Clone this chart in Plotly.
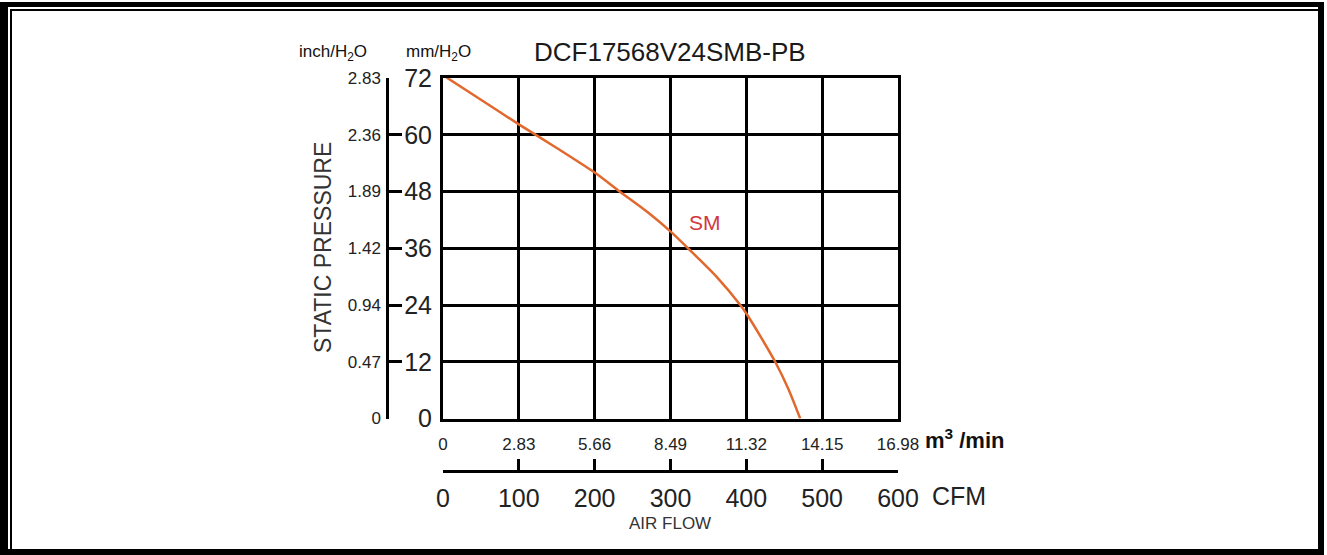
import plotly.graph_objects as go

# ---- data ----
cfm_ticks = [0, 100, 200, 300, 400, 500, 600]
cmm_labels = ["0", "2.83", "5.66", "8.49", "11.32", "14.15", "16.98"]
cfm_labels = ["0", "100", "200", "300", "400", "500", "600"]
mm_ticks = [0, 12, 24, 36, 48, 60, 72]
mm_labels = ["0", "12", "24", "36", "48", "60", "72"]
inch_labels = ["0", "0.47", "0.94", "1.42", "1.89", "2.36", "2.83"]

sm_flow = [0, 50, 100, 150, 200, 233, 270, 301, 323, 360, 392, 400, 420, 438, 455, 471]
sm_pressure = [72.6, 67.4, 62.2, 57.2, 52.0, 48.0, 43.6, 39.4, 36.0, 30.1, 24.0, 22.2, 17.0, 12.0, 6.4, 0.0]

W, H = 1327, 555
SANS = "Liberation Sans, Arial, sans-serif"


def px(x):
    return x / W


def py(y):
    return 1 - y / H


fig = go.Figure()
fig.add_trace(go.Scatter(x=sm_flow, y=sm_pressure, mode="lines",
                         line=dict(color="#E2692D", width=2.5, shape="spline", smoothing=0.8),
                         hoverinfo="skip", showlegend=False))
# invisible helpers so the secondary axes are drawn
fig.add_trace(go.Scatter(x=[0], y=[0], xaxis="x2", yaxis="y", mode="markers",
                         marker=dict(opacity=0), showlegend=False, hoverinfo="skip"))
fig.add_trace(go.Scatter(x=[0], y=[0], xaxis="x", yaxis="y2", mode="markers",
                         marker=dict(opacity=0), showlegend=False, hoverinfo="skip"))

x0, x1 = px(443), px(898)
y0, y1 = py(418.5), py(78)

fig.update_layout(
    template="none",
    width=W, height=H, margin=dict(l=0, r=0, t=0, b=0, pad=0), autosize=False,
    paper_bgcolor="white", plot_bgcolor="white", showlegend=False,
    xaxis=dict(domain=[x0, x1], range=[0, 600], tickvals=cfm_ticks, ticktext=cmm_labels,
               automargin=False,
               showgrid=True, gridcolor="black", gridwidth=2.5, zeroline=False,
               showline=True, linecolor="black", linewidth=3, mirror=True,
               ticks="", ticklabelstandoff=8,
               tickfont=dict(family=SANS, size=17, color="#222")),
    xaxis2=dict(domain=[x0, x1], range=[0, 600], overlaying="x", anchor="free",
                automargin=False,
                position=py(471), side="bottom", tickvals=cfm_ticks, ticktext=cfm_labels,
                showgrid=False, zeroline=False, showline=True, linecolor="black", linewidth=2.5,
                ticks="inside", ticklen=11, tickwidth=2.5, tickcolor="black",
                ticklabelstandoff=4,
                tickfont=dict(family=SANS, size=25, color="#222")),
    yaxis=dict(domain=[y0, y1], range=[0, 72], tickvals=mm_ticks, ticktext=mm_labels,
               automargin=False,
               showgrid=True, gridcolor="black", gridwidth=2.5, zeroline=False,
               showline=True, linecolor="black", linewidth=3, mirror=True,
               ticks="", ticklabelstandoff=3,
               tickfont=dict(family=SANS, size=25, color="#222")),
    yaxis2=dict(domain=[y0, y1], range=[0, 72], overlaying="y", anchor="free",
                automargin=False,
                position=px(387), side="left", tickvals=mm_ticks, ticktext=inch_labels,
                showgrid=False, zeroline=False, showline=True, linecolor="black", linewidth=2.5,
                ticks="inside", ticklen=13, tickwidth=2.5, tickcolor="black",
                ticklabelstandoff=2,
                tickfont=dict(family=SANS, size=17, color="#222")),
)


def note(text, x, y, size, color="#222", xanchor="center", ref="paper", **kw):
    if ref == "paper":
        return dict(text=text, x=px(x), y=py(y), xref="paper", yref="paper",
                    xanchor=xanchor, yanchor="middle", showarrow=False,
                    font=dict(family=SANS, size=size, color=color), **kw)
    return dict(text=text, x=x, y=y, xref="x", yref="y", xanchor=xanchor, yanchor="middle",
                showarrow=False, font=dict(family=SANS, size=size, color=color), **kw)


ann = [
    note("DCF17568V24SMB-PB", 670, 52, 26, "#1a1a1a"),
    note("inch/H<sub>2</sub>O", 333, 53, 17, "#111"),
    note("mm/H<sub>2</sub>O", 439, 53, 17, "#111"),
    note("STATIC PRESSURE", 323, 248, 23, "#333", textangle=-90),
    note("<b>m<sup>3</sup> /min</b>", 923, 439, 22, "#111", xanchor="left"),
    note("CFM", 930, 496, 25, "#222", xanchor="left"),
    note("AIR FLOW", 670, 523, 17, "#333"),
    note("SM", 345, 41.5, 21, "#D3373C", ref="data"),
]
fig.update_layout(annotations=ann)

# frame
shapes = []


def bar(xa, xb, ya, yb):
    shapes.append(dict(type="rect", xref="paper", yref="paper", x0=px(xa), x1=px(xb),
                       y0=py(yb), y1=py(ya), fillcolor="black", line=dict(width=0), layer="above"))


bar(0, 8, 2, 555)
bar(0, 1324, 2, 7)
bar(1318, 1324, 2, 555)
bar(0, 1324, 549, 555)
bar(10, 12, 9, 549)
bar(10, 1318, 9, 11)
fig.update_layout(shapes=shapes)

fig.write_html("out.html", config={"displayModeBar": False},
               post_script="document.body.style.margin='0';document.body.style.overflow='hidden';")
